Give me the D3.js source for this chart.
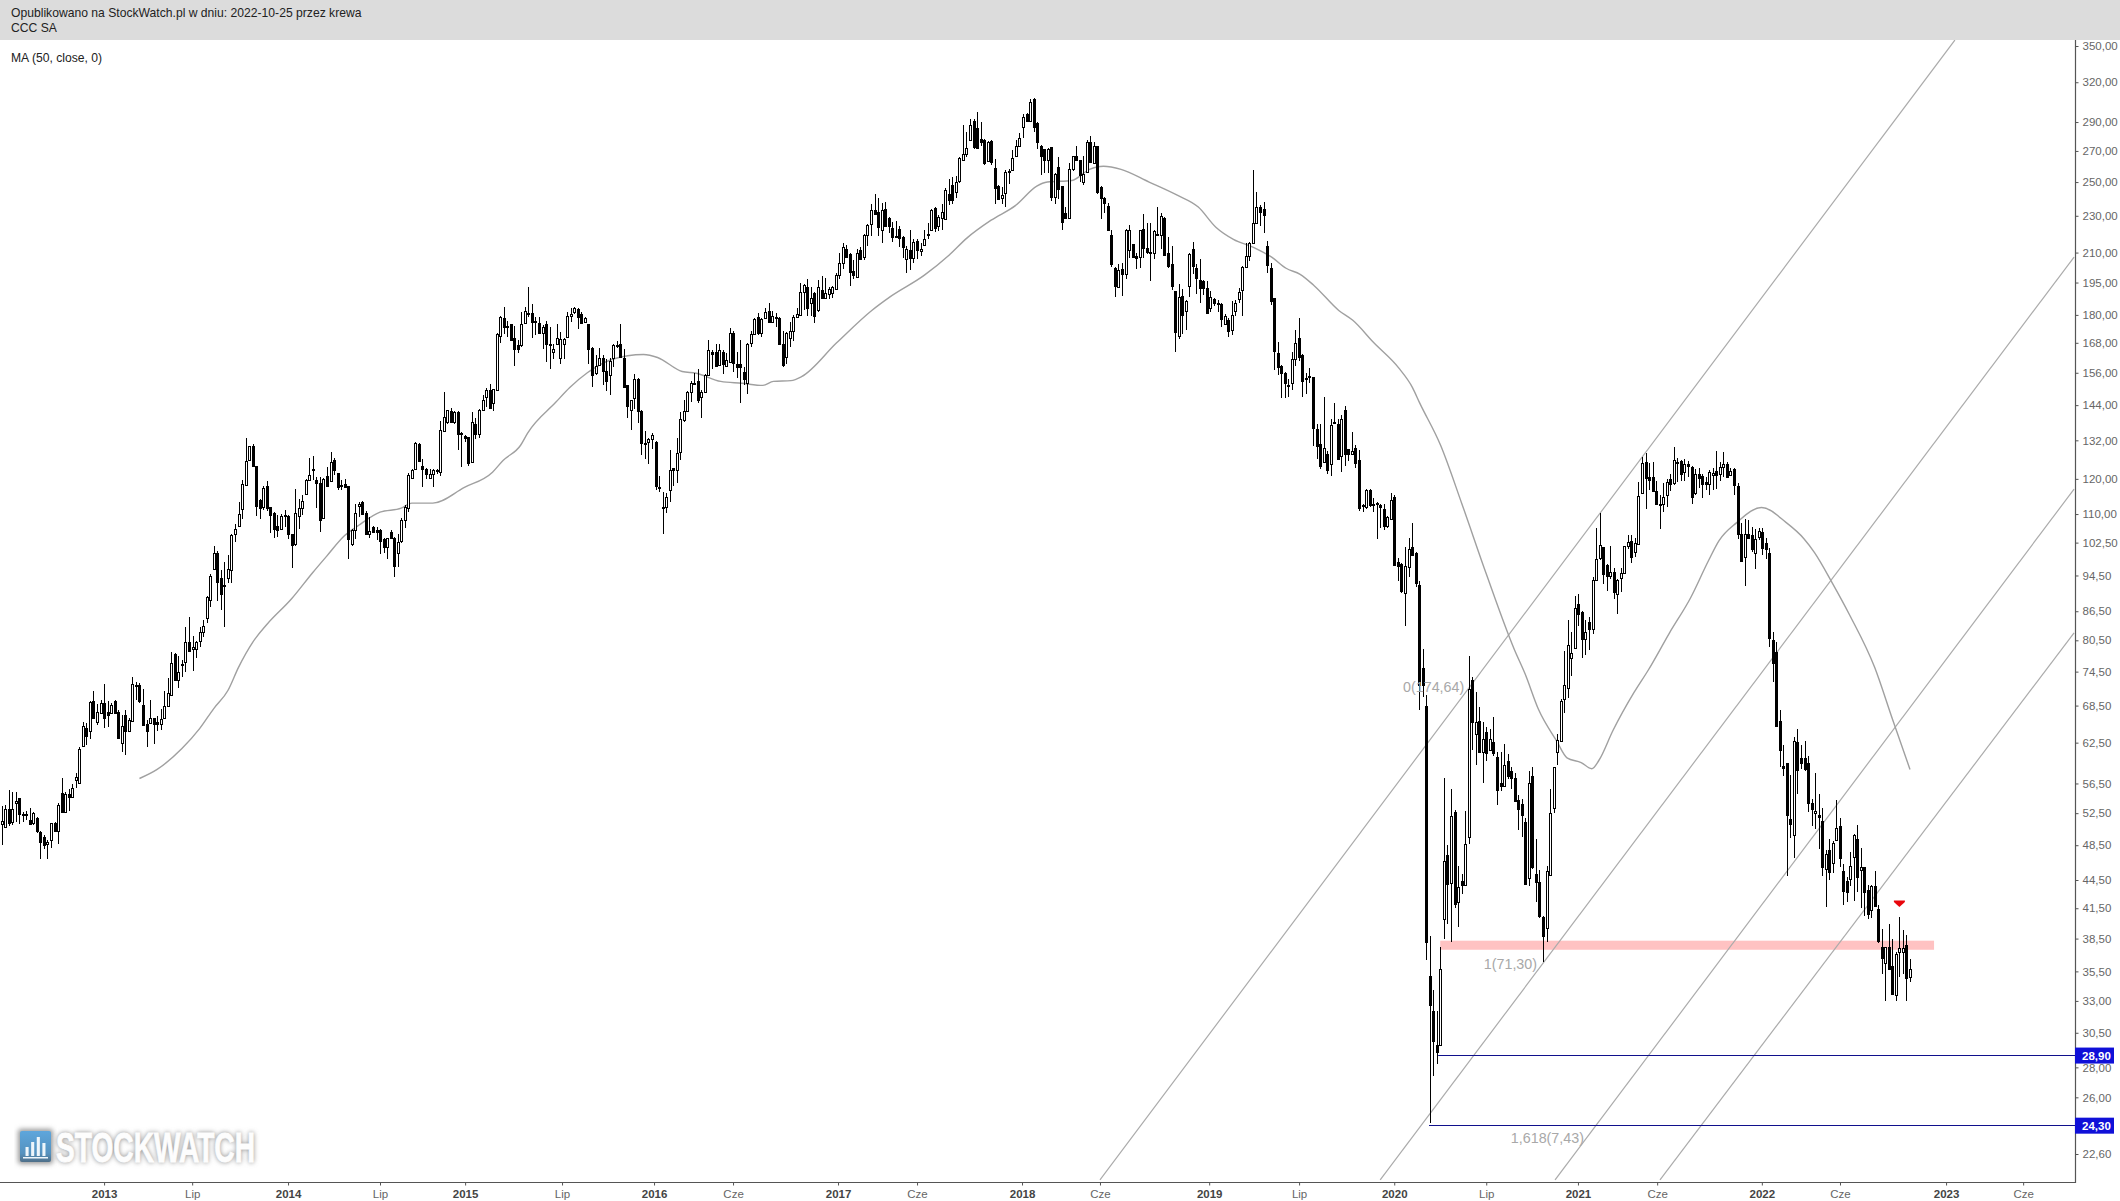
<!DOCTYPE html>
<html><head><meta charset="utf-8">
<script src="https://cdn.jsdelivr.net/npm/d3@7/dist/d3.min.js"></script>
<style>html,body{margin:0;padding:0;background:#fff}svg{display:block}text{font-family:"Liberation Sans",Arial,sans-serif}</style>
</head><body><svg id="c" width="2120" height="1201"></svg>
<script>
// Weekly candles, each row is [open, high, low, close]
const weeksA=[[51.1,53.4,48.5,51.5],[50.7,53.6,50.6,53],[53,55.6,50.9,51.3],[51.4,55.3,51,53.1],[53.8,55.3,51.4,54.1],[54.5,54.5,51.1,52.4],[52.4,52.6,51.4,52.3],[52.4,52.8,51.6,52.4],[51.6,53.2,51,51.1],[51.2,52.6,51,52.5],[51.9,52,50,50.2],[50.1,50.2,46.9,48.9],[49.5,49.8,48,48.5],[48.6,49.1,46.9,48.9],[49.1,51.3,48.2,51.2],[51.2,51.4,50.1,50.2],[50.2,53.8,48.6,53.6],[55.2,57.2,52.7,52.7],[52.7,55.3,52.6,55],[55.1,55.7,52.8,54.6],[54.6,56.4,54.6,55.9],[57,58,55.9,57.4],[56.6,61.8,56.4,61.5],[62,65.8,61.8,65.2],[64.8,65.6,62.1,63.6],[64.4,69.2,63,69.1],[69.3,71.1,66.4,66.5],[65.7,68.8,65.3,67.4],[67.3,69.5,67.2,68.9],[69,72.2,64.8,66.4],[67.4,69.2,65,67],[67.3,68.9,67.1,68.6],[69.3,69.5,67.2,67.3],[67.5,67.8,63,63.3],[62.4,66.9,61.1,65.2],[66.9,67.8,60.6,64.3],[64.4,66.5,64.3,66.1],[65.9,73.6,65.8,72.2],[72.1,72.7,69.5,72],[72.1,72.4,68.9,69.3],[68.6,71.3,65.1,65.3],[65.4,66.1,61.9,64.4],[65.6,69.5,65.5,66.4],[66.4,66.5,62.3,65.5],[65.7,66.7,64.3,65.5],[65.4,67.9,64.5,66.2],[66.5,71,66.4,68.5],[68.5,73.3,68.3,70.6],[70.3,78.3,70.1,76.2],[77.9,78.1,72.8,73],[73,77.5,71.5,74.4],[75.9,76.6,73.5,75.8],[76.3,83.1,74.5,80.1],[80.1,85.2,78.3,78.4],[78.8,81.3,74.7,79.2],[78.7,80.3,77.1,80.1],[80.3,83.2,79.2,82.1],[82.2,84.6,81.2,83.5],[85.1,89.8,84,89.7],[88.9,94.9,87.5,94.3],[96,101.6,95.8,99.8],[100,100.4,88.7,93.1],[93.8,95.8,86.8,90.3],[92.2,97.8,83.2,92],[93.8,99.3,92.7,96],[95.7,104.6,92.7,104.4],[104.6,107.2,102.7,106],[106.7,113.3,106.5,110.1],[111.3,119.7,108.7,118.4],[118.2,132.6,117.8,125.3],[125.8,130.3,125.6,130],[130.3,130.7,123.6,123.9],[123.8,123.8,109.4,112.3],[114,114.3,108.7,111.6],[111.8,118,111.1,117.3],[117.9,119.3,110.9,111.6],[111.9,112,105,109.7],[110.3,110.6,103.8,106],[106.9,109.7,104,105.7],[105.9,110,105.7,109.5],[109.4,111.2,106.5,109.7],[109.4,109.7,103.3,104.8],[104.8,104.8,96.2,102],[102.1,117.1,101.6,110.4],[109.5,114.3,106,111.6],[111.6,115.2,109.7,113.5],[115.6,119.9,115.4,119.7],[119.6,126.2,119.3,121.1],[122.8,126.9,119.6,123],[119.6,120.5,111.6,118.8],[118.8,120.5,105.3,108.5],[109,120.2,108.7,120],[120.8,123.6,117.8,118],[119.3,128.4,119.2,125.2],[125.8,126.2,121.2,122.6],[121.7,121.9,116.8,117.6],[118.2,119.6,116.8,118.1],[118.4,119.9,117.2,117.6],[117.8,117.9,98.5,103.3],[102.2,106,101.7,105.7],[105.7,112.9,103.3,110.4],[112.2,113.3,109.2,112.9],[113.3,113.5,109.9,110.1],[110.4,110.9,104.8,104.8],[104.8,109.2,103.6,105.5],[106.5,106.7,105,105.3],[105.7,106.5,103.1,105.1],[105.8,106,99.6,102.9],[103.3,103.8,100,101.3],[101.3,103.8,98.5,103.6],[105.1,105.7,103.3,103.6],[103.8,104,94.2,96.7],[100,104.8,96.6,102.7]];
const weeksB=[[102.9,108.8,102.3,108.4],[108.4,112.5,106.2,111.9],[111.7,121.7,110.6,121.1],[120.3,123.1,120.1,122.8],[122.9,131.3,122.6,131],[130.7,131.1,125,125.3],[123.8,126,117.5,122.9],[123,123.3,120.1,121.4],[120.2,122.9,120,121.4],[121.4,123,117.7,122.6],[122.7,123,121.4,122.6],[122,138.3,121,135.4],[135,148.7,135,139.7],[138,142.4,137.5,142.2],[142,142.9,137.9,138],[138,142,137.5,141.6],[141.6,141.8,129,134],[134,134.6,123.6,134.5],[133.4,133.6,131.6,132.7],[133,133,123.8,124.9],[125,141.6,124.8,138.2],[137.5,139.4,132.5,134],[134.2,142.7,132.7,142.4],[142.4,147.6,142,146],[146.8,150.1,143.2,149.5],[149.5,151.7,142.5,143],[144.9,150,142,149.7],[149.5,172.1,149.3,171.7],[170.8,179.3,167.9,179],[178.5,183.7,171.6,174.9],[175,177.3,170.5,174.9],[176.2,176.2,169,169.2],[170,175.2,158.5,165.5],[166.9,169.3,163.7,165.5],[167,181.1,166.1,176.2],[176.5,183.7,176.2,181.6],[180.6,192.7,179,181],[181,184.7,169.9,176.9],[177.3,179,171.4,177.1],[176.6,179,171.7,172.1],[172.1,175.7,165.5,174.9],[175.9,177.3,160.4,167.7],[167.5,174.9,157.3,167],[164.4,167.5,161.5,165.4],[167.5,175.9,167.1,170.2],[162,172.4,159.4,169.4],[167.3,169.9,161.4,169.6],[170.5,181.1,169.9,179.3],[179.3,183,177,180.2],[181.1,183.7,180.6,183],[182.7,183,174,179],[180.6,181.3,176.2,176.5],[177,179,176.5,178.7],[176.2,176.2,159.4,165.4],[165.9,166.3,150.7,155.1],[156.1,163,155,158.7],[159,165.9,159,161.7],[161.7,163,151.2,156.8],[156.7,161.3,149,153],[155.1,161.7,147.6,160.8],[161.7,167.5,158.2,167],[167,168.9,166,167.2],[167.7,176.2,162,162.3],[161.7,165.6,150.5,150.5],[151.5,151.5,139.6,143.7],[142.3,146,135.5,145.8],[146.4,155.5,142.6,153.8],[153.8,154,137.9,142],[142.1,142.3,127.3,131],[131.1,135.1,126,130.9],[131.3,132.7,124.4,132.5],[132.3,134.5,129.3,133.8],[131.4,131.7,116.6,118],[117.2,121,116.2,117.7],[111.9,116.2,104.8,112],[111.9,115.8,110.2,114.8],[116.6,129,113.3,122.8],[123.3,123.3,117.9,122.8],[122.8,132.7,118.8,127.8],[128.2,141.6,125.8,139],[138.8,146,138.2,142],[142,149,141.8,148.7],[148.7,152.7,145.2,152.1],[152.1,155.8,151.3,151.9],[153,157.6,144.6,145.8],[146.8,149.5,139.4,148.7],[148.7,155.5,148.4,155.2],[155.2,169.1,154.9,165],[164.1,165,157.6,163.3],[164.1,167.7,158.2,158.7],[159,167.7,158.7,164.9],[164.1,165,155.5,159.4],[158.7,163.7,158.5,161],[160.4,174.2,160,172.1],[172.1,172.8,156.4,160],[159.4,164.4,154,158.1],[159.4,169.3,144.9,158.1],[156.4,158.2,151.2,153.8],[152.1,168,147.9,167.7],[168,172.8,166.3,171.9],[171.9,178.7,171.7,178.2],[179,180.9,171.2,172.1],[172.1,178.6,170.5,178.1],[178.6,183,178.1,181.4],[181.6,185.2,176.5,177],[176.7,181.6,176.6,179.3],[179,180.9,174.9,178.5],[178.8,179,167.5,167.7],[167.7,172.8,158.2,159],[162.3,172.4,159.4,172.1],[169.9,177,166.2,172.8],[172.8,180,168.9,179],[179,183,178.6,180.6]];
const weeksC=[[180,194.6,179.4,190.7],[190.7,194.2,182.2,193.9],[192.9,196.6,179.4,183],[185.5,192.9,179.4,187.8],[190.1,190.7,176.3,179.4],[182.2,196,181.5,193],[191.4,198,187.5,187.8],[187.9,197.4,187.5,190.1],[189.5,192.9,187.2,192],[190,193.5,187.5,192.9],[192,199.5,191.4,198.9],[198.5,209.6,196.9,204.5],[204.9,214.9,201.8,212.9],[212,214,207,207.9],[209.2,209.6,193.5,200.2],[200.8,206.2,196.9,198.6],[197.9,212,197.6,209.9],[211.2,212.7,206.3,206.6],[207.9,220,206.3,219.5],[219.5,225.2,213.3,224.7],[225.2,236.8,219,233.2],[233.2,243,230.6,231.2],[232.3,240.3,218.6,223.8],[222.1,237.2,214.9,233.1],[233.7,238.2,224.3,224.4],[228.6,229.2,220.4,224.4],[223,226.6,215.7,218],[218.9,227.2,218,218.4],[222.6,224.2,213,217.8],[218,218.9,207,213],[206.6,213.6,199.5,211.8],[211.2,222,201,207],[207,217,204.5,215.4],[216.2,217,206.5,211.2],[210.8,215.2,208.3,212],[214.2,221.8,213.8,217],[220,226,217,219.7],[221.8,234,221.5,233.1],[234.3,235,221,223],[224.4,230.6,221.6,229.3],[229,236.8,222.2,232],[228.2,246.4,227.8,245.1],[243,252,236.2,238.9],[248,253,236.8,239.3],[244.2,253.8,240.3,249.9],[250.4,265.8,249.4,265.2],[264.1,288,264,268],[268,283,266.2,272],[277.7,292,277.4,288],[291,292.5,271,272.6],[285.5,297.2,271.8,272.3],[278.1,289.7,273,275.8],[277.4,278.1,260.7,262.3],[263.2,276.5,262.9,276.2],[277,277.4,260.9,262.9],[259,264.5,237,246.6],[247.4,248,239,240],[240.2,247,237,242],[243.1,257.3,235.2,256.3],[256.3,258,248.6,256.9],[257.3,270.5,257,265.3],[266.5,277.4,266.2,273.5],[273,282.3,272.6,279],[286.4,295.6,279,294],[295.6,296.7,290,290.7],[291,306.9,291,304.5],[306.7,307.5,282.7,286.4],[289,290,271.5,276],[273,273.9,254.2,266.6],[271,271.5,255.8,263.7],[263.9,272.3,255.4,271.2],[272.6,272.6,238.3,240.8],[241,255.9,237,255],[259.2,266.2,239.6,245.7],[247.4,247.4,222,226.6],[231.4,235.2,229,229],[228.7,262,228.5,258.2],[258,266.9,257,266.6],[266.9,273,263.4,263.7],[263.7,264.3,249.8,254.2],[250.3,266.6,248.2,254.8],[256.2,277.2,255.4,275.8],[275.8,280.3,261.9,262.5],[262.2,275.8,261.7,273],[273,273,243,243.9],[247.2,247.5,228.3,240.3],[240.3,240.7,231.4,237.2],[235.5,237.6,221.6,222],[219.4,222.2,202.5,204.2],[202.1,202.5,188.3,193.2],[193,204.2,193,201],[201.4,204.4,188.6,199],[199,222.5,196.9,222.2],[211.2,224.8,207,222.2],[214.6,214.6,207.2,207.6],[208.2,209.6,201.6,207.2],[207.8,222.2,201.9,221.8],[222.5,231.3,207.1,212.6],[212.3,225.7,209.3,210.5]];
const weeksD=[[210.2,225.8,195.8,209.9],[209.9,222,206.7,221.4],[220,234.8,219,219.5],[219.4,231.7,211.9,229.9],[228.7,229.4,208.3,208.7],[209.7,218,202,203],[204,213.6,191.4,193.4],[190.9,190.9,164.3,172.4],[170.9,194.3,169.4,188],[188.8,191.8,171.7,179.8],[181.8,186.6,173.2,186.1],[193.4,209.7,188,209.3],[211.9,215.5,199.4,203],[202,204,189.5,197.4],[196,206.7,185.2,192.5],[195.8,196,189.2,192.2],[192.5,195.6,180.6,181],[183,190.9,181.5,188],[187,187.5,183.9,185.2],[185.3,186.6,181.5,185],[185,185.3,174.9,178],[176.2,180.2,175.4,179.3],[177.6,178.6,170.6,172.8],[173.5,186.1,171.3,179.8],[181.8,186.6,179.3,185.2],[187,192.2,185.2,190.3],[191.4,203,179.3,202.4],[202.4,215.2,202,208.3],[208,215.5,205.8,214.8],[214.9,257.8,214.8,225.8],[225.8,243.9,225.4,234.8],[235.2,236.1,224.4,232],[233.8,237.7,220.2,230.3],[213.6,216,199.8,203.4],[202,204.6,184.6,186.3],[187.5,187.5,157.2,164.8],[164,168.4,155.2,158.3],[158.6,158.9,146.5,156],[156.1,156.4,146.5,152],[151.4,153.7,146.8,150.8],[152,164.3,149.4,161.5],[161.5,173.6,158.6,168],[170.1,178.6,160.5,162.2],[162.9,163.3,146.8,152.7],[154,155.8,148,153.8],[154.7,157.9,152,154.5],[154.2,154.2,130.2,136.2],[135.8,137.3,126.1,130],[130.8,137.3,123,123.8],[125,146.8,124.7,129.4],[127.5,128.5,121.4,122.7],[124.5,139,120.9,137.1],[138.2,144.7,137.3,138],[137.3,139,125.8,126.1],[126.9,140.6,122.2,139],[142.3,143.8,123.8,127.5],[129.1,129.1,125.4,127.5],[127.7,134.6,127.5,128.6],[129.4,130.5,123.3,124.7],[125.8,129,110.9,111.6],[112.5,112.9,110.5,112.1],[111.9,117,111.3,116.7],[116.8,117,111.9,112.4],[112.7,114.5,110.5,112.4],[113.1,113.4,103.5,112.9],[112.4,112.9,106.4,111.9],[111.3,112.8,105.8,106.7],[106.9,109.4,106.4,109.1],[108.6,116,108.3,114],[114.8,115.2,96.7,96.9],[97.8,98.7,93.2,96.7],[97.3,97.5,90.6,91],[90.6,101.5,83.4,96.7],[96.5,103.7,94.1,101],[101.3,107.6,99.2,99.5],[99.9,100.1,91.8,92.8],[92.3,93.2,67.8,72]];
const weeksE=[[75.1,78.7,70,72],[68.4,70.4,36.5,38.2],[35.1,38.7,24.4,32.7],[32.2,33.9,27.4,29.9],[29.6,32.2,28.2,29.1],[29.6,37.7,29.5,35.7],[40.4,57.2,38.5,46.6],[47.3,48.5,39.9,44.1],[44.2,55.7,38.2,52.1],[52.7,52.9,41.5,41.9],[42.1,46.1,39.6,43.7],[44.4,45.2,43,44],[44,52.8,43.8,48.7],[49.5,77.5,48.6,71.4],[73,73.6,61.3,65.7],[63.9,70.8,59.2,65.8],[66,68.2,60.9,61.1],[61,65.8,56.6,63.1],[64.2,65,59.7,60.9],[61.4,64.6,61.3,63.1],[62.6,66.6,60.5,60.9],[60.3,61.1,53.6,55.6],[56.5,61.1,55.5,56.2],[56.2,62.3,56,59.2],[59.8,60.8,57.1,57.5],[58.2,58.8,55.8,57.2],[57.2,58,54,54.1],[54.2,54.9,50.4,53],[53.7,54.4,49.5,52.2],[51.4,51.9,44,44.1],[44.7,58.3,43.8,56.6],[57.5,58.8,45.7,46],[45.2,49.3,42.1,44.3],[44.3,45.6,40.5,40.7],[40.6,40.7,36.3,38.7],[39.5,46.1,38.2,45.5],[45,55.8,44.9,52.5],[53.2,58.9,52.5,58.8],[61.1,63.8,59.2,62.9],[62.8,69.6,62.6,69.2],[69.6,78.4,67.2,72],[71.5,84.6,69.8,79.5],[77,82.2,73.7,78],[79,89.9,78.8,87.3],[88,90.3,83.5,85.9],[86.3,86.5,77,80.7],[80.7,84.6,77.6,82.2],[84.3,85.3,78.5,82.7],[82.7,94.2,81.8,93.4],[93.4,106.4,93.2,98.4],[98.6,110.4,98.1,101.9],[101.5,101.5,92.5,94.8],[97,97.1,91,94.4],[94.4,101.7,93.7,95.2],[95.2,96.2,89.1,90.8],[90.3,93.6,86,93.4],[93.8,96.2,90.8,95],[95,101.7,94.8,101.6],[101.6,104.4,101,102.7],[102.9,104.4,97.5,98.8],[100.2,103.8,99,102.4],[102.2,119.1,102,115],[115.9,126.8,115.7,124.8],[125,128,111.3,120.2],[120.6,124.8,116.6,119.8],[120.6,125.1,116.2,116.4],[116.5,119.5,112.4,112.7],[112.9,115.3,105.9,112.6],[112.9,118.8,110.5,114.8],[115.3,119.9,112,119.1],[120,121.6,116.4,118.6],[118.7,129.7,118.2,125.7],[125,126.3,119.1,124.8],[125.3,125.7,119.5,121.4],[122,125.9,119.5,124.4],[124.6,125.4,120.6,123.8],[123.6,123.8,112.9,114.8],[115.9,123,115.4,121.4],[121.4,123.3,117.3,120.2],[120.9,121.6,114.5,118.6],[119.1,120.6,116.8,118.6],[118.4,122.8,115.2,122.1],[121.3,123.3,116.8,121.9],[122.3,128.7,117,121.2],[121.6,125.2,119.4,123.6],[123.7,128.1,120.6,124.5],[124.5,125,120.2,120.6],[121.3,123.3,120.9,122.5],[123,123.3,115.4,118.2],[118,118.8,103.3,104.8],[104.8,107.5,97.9,97.9],[98.8,108.7,92,104.6],[104.8,108.3,103.8,103.8],[104.5,106.5,100.2,101],[99.8,105.9,96,103.3],[103.9,106.3,103.1,105.6]];
const weeksF=[[105.1,106.3,99.4,101.2],[102.3,103.6,98.5,100.9],[100,101.2,79.2,81],[80.5,82.2,72.7,76.1],[78.2,80.2,65,65.2],[65.9,67.7,58.8,61.3],[59,62.1,57.6,58.7],[59.4,59.5,44.9,52.3],[51.8,57.7,49.4,51.1],[49.8,63.4,47,62.8],[62.6,64.6,55.1,58.4],[60.2,62.1,58.6,59.4],[60.2,62.8,58.3,58.6],[59.4,60.4,52.7,53.8],[53.8,54.4,50.9,53],[52.5,58,50.5,52.8],[52.3,55,48.1,52],[51.5,53.2,44.9,46],[45.7,47.9,41.6,47.4],[47.9,49.3,44.5,45.4],[46.4,49,45.3,48.8],[49.1,54.2,49,50.6],[50.9,51.9,45.9,47],[45.5,46.3,41.8,43.3],[44.4,44.8,42.1,43.2],[44.6,47.7,43.9,46.1],[47.1,49.9,42.2,49.8],[49.3,51,43.2,44.8],[45.6,48.2,41.5,45.9],[45.9,45.9,40.7,43.2],[43.4,44,40.4,40.9],[41.3,44,40.5,43.8],[43.9,45.5,41.6,41.7],[41.4,41.8,38.1,38.3],[37.7,39.4,35.3,36.7],[36.2,37.7,33,37.7],[37.7,39.9,35.6,35.7],[36,38.5,33.5,33.6],[33.5,37.2,33,37.1],[37.2,40.6,35,37.6],[37.2,39.3,35.3,37.6],[37.9,38.8,33,34.9],[35,36.6,34.6,35.7]];

const maBars=[39,44,51,56,60,64,67,71,75,82,88,92,97,101,107,113,116,122,131,139,142,147,149,157,161,166,173,182,186,193,197,204,210,216,219,224,227,237,247,252,262,269,274,281,288,294,297,304,309,313,318,326,334,340,345,350,356,361,365,369,373,380,384,390,397,401,403,409,415,422,430,433,437,442,445,449,452,454,458,464,468,474,480,485,488,493,500,507,512,515,520,525,532,537,542];
const maValues=[57.2,58.5,61.6,64.7,68,71.1,75.3,80.1,83.7,89.2,95.2,99.2,104.3,107,110.5,111.6,113,113,117.5,122,125.6,130.4,134.4,145,150.4,156,161.2,163.2,162,156.5,155.8,152.7,152,151.2,152.7,153,154.5,168,182,188,198.6,208.6,217.5,227.5,236,247.5,250,251,258,260,258,250,242,235,223.6,217,212.5,207.5,202,199,193.5,182,177.6,168,158,150.4,144.9,130.4,113,94.9,78.7,74.2,67.7,62.8,60.2,59.5,58.6,59.8,64.4,70.8,74.8,82,89.5,98,103,107.7,111.8,107.7,103.5,100,92.8,85.6,75.3,66.3,58.5];

const channelBars=[[312,554.7],[391.8,588.4],[441.6,588.4],[471.3,588.4]];
const channelPrices=[[21.2,355.2],[21.2,207.7],[21.2,117],[21.2,82]];

const priceTicks=[350,320,290,270,250,230,210,195,180,168,156,144,132,120,110,102.5,94.5,86.5,80.5,74.5,68.5,62.5,56.5,52.5,48.5,44.5,41.5,38.5,35.5,33,30.5,28,26,22.6];
const timeTickBars=[29,53.9,81,107,131.2,158.8,185,207.5,237.4,259.9,289.8,312,343.1,368.7,395.8,422,448.1,470.5,500.1,522.2,552.2,574];
const timeTickLabels=["2013","Lip","2014","Lip","2015","Lip","2016","Cze","2017","Cze","2018","Cze","2019","Lip","2020","Lip","2021","Cze","2022","Cze","2023","Cze"];

const levelPrices=[28.9,24.3];
const levelStartBars=[408.3,405.7];
const zonePrices=[37.45,38.3];
const zoneBars=[408.9,548.8];
const signalBar=539, signalPrice=42.3;
const fibLabels=["0(174,64)","1(71,30)","1,618(7,43)"];
const fibBars=[398.3,421.3,429];
const fibPrices=[70.8,35.7,23.2];
const headerLines=["Opublikowano na StockWatch.pl w dniu: 2022-10-25 przez krewa","CCC SA"];
const indicatorLabel="MA (50, close, 0)";
const logoBars=[9,14,19,13];

const W=2120,H=1201,axisX=2075,axisY=1182,headH=40;
const weekGroups=[weeksA,weeksB,weeksC,weeksD,weeksE,weeksF];
const rows=d3.merge(weekGroups);
// timeline scale for ticks and overlays
const x=d3.scaleLinear().domain([0,112,445,542]).range([1.5,397.7,1567,1910]);
// candle scale, anchored at the start of each group of weeks
const groupStarts=d3.cumsum([0,...weekGroups.slice(0,-1).map(g=>g.length)]);
const xc=d3.scaleLinear().domain([...groupStarts,rows.length-1]).range([1.5,401.3,800.3,1150.3,1422.7,1762.3,1910]);
const y=d3.scaleLog().domain([22.6,350]).range([1154,46]);
const commaFmt=v=>d3.format(".2f")(v).replace(".",",");
const svg=d3.select("#c");

const defs=svg.append("defs");
defs.append("clipPath").attr("id","plot").append("rect").attr("x",0).attr("y",headH).attr("width",axisX).attr("height",axisY-headH);
const blur=defs.append("filter").attr("id","soft").attr("x","-10%").attr("y","-30%").attr("width","120%").attr("height","160%");
blur.append("feGaussianBlur").attr("stdDeviation",2.4);
const grad=defs.append("linearGradient").attr("id","logoG").attr("x1",0).attr("y1",0).attr("x2",0).attr("y2",1);
grad.append("stop").attr("offset","0%").attr("stop-color","#5ea6dc");
grad.append("stop").attr("offset","72%").attr("stop-color","#5592bf");
grad.append("stop").attr("offset","100%").attr("stop-color","#4f6f88");

svg.append("rect").attr("width",W).attr("height",H).attr("fill","#fff");

// logo
const logo=svg.append("g");
logo.append("rect").attr("x",18).attr("y",1129).attr("width",35).attr("height",35).attr("rx",3).attr("fill","#9a9a9a").attr("filter","url(#soft)");
logo.append("rect").attr("x",20).attr("y",1131).attr("width",31).attr("height",31).attr("rx",2).attr("fill","url(#logoG)");
const logoX=d3.scaleBand().domain(d3.range(logoBars.length)).range([23,48]).padding(.45);
logo.selectAll("rect.b").data(logoBars).join("rect").attr("class","b").attr("x",(d,i)=>logoX(i)).attr("width",logoX.bandwidth()).attr("y",d=>1156-d).attr("height",d=>d).attr("fill","#eef6fb");
logo.append("rect").attr("x",23).attr("y",1157).attr("width",25).attr("height",1.5).attr("fill","#eef6fb");
const logoText=(sel,fill)=>sel.append("text").text("STOCKWATCH").attr("x",56).attr("y",1162).attr("font-size",42).attr("font-weight","bold").attr("textLength",199).attr("lengthAdjust","spacingAndGlyphs").attr("fill",fill).attr("stroke",fill).attr("stroke-width",.8);
logoText(logo,"#8c8c8c").attr("filter","url(#soft)");
logoText(logo,"#fdfdfd");

// overlays
const plot=svg.append("g").attr("clip-path","url(#plot)");
plot.append("rect").attr("x",x(zoneBars[0])).attr("width",x(zoneBars[1])-x(zoneBars[0])).attr("y",y(zonePrices[1])).attr("height",y(zonePrices[0])-y(zonePrices[1])).attr("fill","#ffc2c2");
const chanLine=d3.line().x(d=>x(d[0])).y(d=>y(d[1]));
plot.selectAll("path.ch").data(channelBars.map((b,i)=>d3.zip(b,channelPrices[i]))).join("path").attr("class","ch").attr("d",chanLine).attr("fill","none").attr("stroke","#ababab").attr("stroke-width",1.2);
plot.append("path").datum(d3.zip(maBars,maValues)).attr("d",d3.line().x(d=>x(d[0])).y(d=>y(d[1])).curve(d3.curveMonotoneX)).attr("fill","none").attr("stroke","#a0a0a0").attr("stroke-width",1.4);
plot.selectAll("line.lv").data(levelPrices).join("line").attr("class","lv").attr("x1",(d,i)=>x(levelStartBars[i])).attr("x2",axisX).attr("y1",d=>Math.round(y(d))+.5).attr("y2",d=>Math.round(y(d))+.5).attr("stroke","#10108c").attr("stroke-width",1.2);

// candles
const cg=svg.append("g").attr("shape-rendering","crispEdges");
const px=i=>Math.round(xc(i));
cg.selectAll("line.w").data(rows).join("line").attr("class","w").attr("x1",(d,i)=>px(i)+.5).attr("x2",(d,i)=>px(i)+.5).attr("y1",d=>y(d[1])).attr("y2",d=>y(d[2])).attr("stroke","#000");
cg.selectAll("rect.c").data(rows).join("rect").attr("class","c")
 .attr("x",(d,i)=>px(i)-.5).attr("width",2)
 .attr("y",d=>Math.round(y(Math.max(d[0],d[3])))+.5)
 .attr("height",d=>Math.max(1,Math.round(y(Math.min(d[0],d[3])))-Math.round(y(Math.max(d[0],d[3])))))
 .attr("fill",d=>d[3]>=d[0]?"#fff":"#000").attr("stroke","#000");

// signal
const sx=x(signalBar),sy=y(signalPrice);
svg.append("path").attr("d",`M${sx-5.5},${sy}H${sx+5.5}V${sy+1.5}L${sx},${sy+6.5}L${sx-5.5},${sy+1.5}Z`).attr("fill","#e8060c");

// fib labels
svg.selectAll("text.fib").data(fibLabels).join("text").attr("class","fib").text(d=>d).attr("x",(d,i)=>x(fibBars[i])).attr("y",(d,i)=>y(fibPrices[i])).attr("font-size",14.3).attr("fill","#a8a8a8");

// header
svg.append("rect").attr("width",W).attr("height",headH).attr("fill","#dcdcdc");
svg.selectAll("text.hd").data(headerLines).join("text").attr("class","hd").text(d=>d).attr("x",11).attr("y",(d,i)=>17+i*15).attr("font-size",12.15).attr("fill","#222");
svg.append("text").text(indicatorLabel).attr("x",11).attr("y",62).attr("font-size",12.15).attr("fill","#222");

// axes
const yAxis=d3.axisRight(y).tickValues(priceTicks).tickFormat(commaFmt).tickSize(3).tickPadding(4);
const ya=svg.append("g").attr("transform",`translate(${axisX+.5},0)`).call(yAxis);
ya.select(".domain").remove();
ya.selectAll("line").attr("stroke","#555");
ya.selectAll("text").attr("font-size",11.5).attr("fill","#666").style("font-family","'Liberation Sans',Arial,sans-serif");
const xAxis=d3.axisBottom(x).tickValues(timeTickBars).tickFormat((d,i)=>timeTickLabels[i]).tickSize(3).tickPadding(4);
const xa=svg.append("g").attr("transform",`translate(0,${axisY+.5})`).call(xAxis);
xa.select(".domain").remove();
xa.selectAll("line").attr("stroke","#555");
xa.selectAll("text").attr("font-size",11.5).attr("fill",(d,i)=>/^\d/.test(timeTickLabels[i])?"#444":"#666").attr("font-weight",(d,i)=>/^\d/.test(timeTickLabels[i])?"bold":"normal").style("font-family","'Liberation Sans',Arial,sans-serif");
svg.append("line").attr("x1",axisX+.5).attr("x2",axisX+.5).attr("y1",headH).attr("y2",axisY+1).attr("stroke","#555").attr("stroke-width",1.2);
svg.append("line").attr("x1",0).attr("x2",axisX+1).attr("y1",axisY+.5).attr("y2",axisY+.5).attr("stroke","#555").attr("stroke-width",1.2);

// level tags
const tags=svg.selectAll("g.tag").data(levelPrices).join("g").attr("class","tag");
tags.append("rect").attr("x",axisX).attr("width",39).attr("y",d=>y(d)-7).attr("height",16).attr("fill","#1010d8");
tags.append("text").text(commaFmt).attr("x",axisX+7).attr("y",d=>y(d)+5).attr("font-size",11.5).attr("font-weight","bold").attr("fill","#fff");
</script></body></html>
